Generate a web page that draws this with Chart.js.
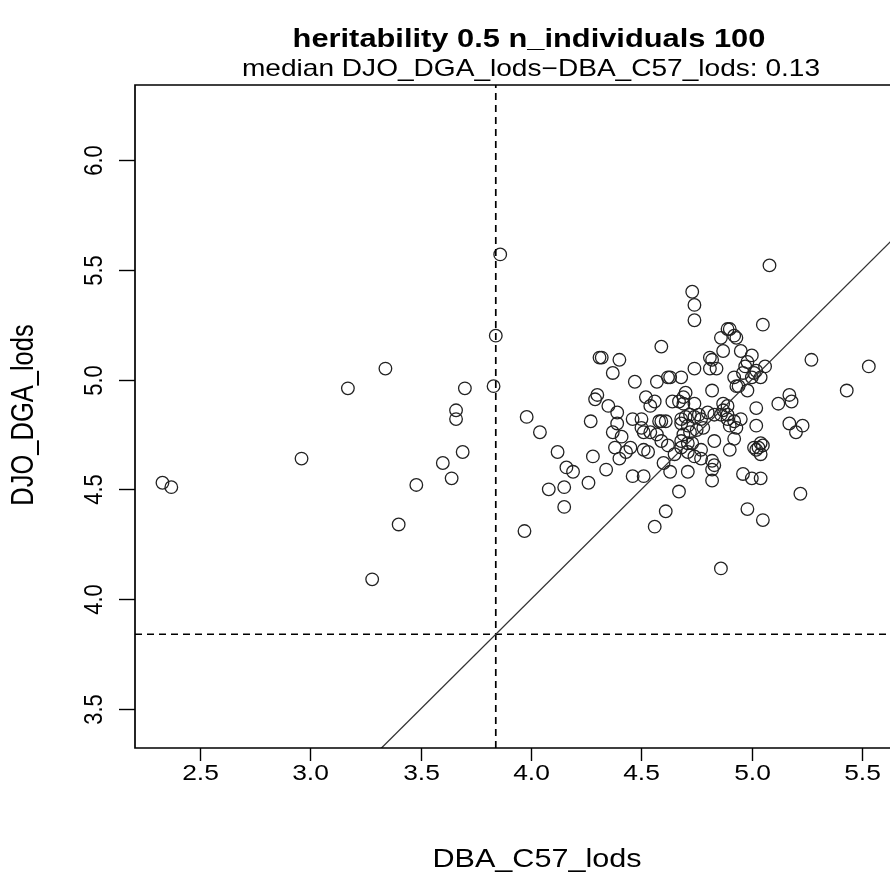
<!DOCTYPE html>
<html>
<head>
<meta charset="utf-8">
<script src="https://cdn.jsdelivr.net/npm/chart.js@4.4.0/dist/chart.umd.min.js"></script>
<style>
  html, body { margin: 0; padding: 0; background: #fff; overflow: hidden; }
  #wrap { width: 890px; height: 884px; position: relative; }
</style>
</head>
<body>
<div id="wrap"><canvas id="grafico"></canvas></div>
<script>
// Dados
const DBA_C57_lods = [
  2.33, 2.37, 3.34, 3.17, 2.96, 3.40, 3.28, 3.86, 3.84, 3.83,
  3.70, 3.66, 3.66, 3.69, 3.60, 3.64, 3.48, 3.98, 4.04, 3.97,
  4.12, 4.16, 4.19, 4.08, 4.15, 4.15, 4.26, 4.28, 4.34, 4.27,
  4.30, 4.29, 4.35, 4.39, 4.39, 4.37, 4.41, 4.38, 4.40, 4.31,
  4.32, 4.40, 4.37, 4.73, 4.74, 4.74, 4.59, 4.47, 4.57, 4.62,
  4.63, 4.68, 4.74, 4.81, 4.82, 4.81, 4.84, 4.86, 4.87, 4.89,
  4.82, 4.52, 4.56, 4.54, 4.46, 4.50, 4.50, 4.51, 4.54, 4.58,
  4.59, 4.61, 4.64, 4.67, 4.69, 4.70, 4.74, 4.87, 4.89, 4.68,
  4.68, 4.70, 4.71, 4.72, 4.74, 4.76, 4.77, 4.80, 4.83, 4.86,
  4.89, 4.69, 4.72, 4.75, 4.78, 4.57, 4.59, 4.68, 4.71, 4.73,
  4.83, 4.51, 4.62, 4.92, 4.94, 4.93, 4.98, 5.04, 4.96, 5.01,
  5.02, 5.12, 5.17, 5.18, 4.87, 4.89, 4.92, 4.95, 4.90, 4.93,
  5.02, 5.17, 5.20, 5.23, 4.92, 5.01, 5.04, 5.05, 4.43, 4.45,
  4.53, 4.60, 4.63, 4.46, 4.51, 4.71, 4.67, 4.61, 4.65, 4.68,
  4.71, 4.74, 4.77, 4.77, 4.82, 4.83, 4.82, 4.82, 4.90, 5.02,
  5.03, 5.04, 4.96, 5.00, 5.04, 5.22, 4.98, 5.05, 4.86, 4.56,
  5.08, 5.05, 4.90, 4.92, 4.93, 4.95, 5.00, 5.27, 5.53, 5.43,
  5.06, 5.02, 4.97, 4.98, 5.00, 4.69
];
const DJO_DGA_lods = [
  4.53, 4.51, 5.05, 4.96, 4.64, 4.34, 4.09, 5.57, 5.20, 4.97,
  4.96, 4.86, 4.82, 4.67, 4.62, 4.55, 4.52, 4.83, 4.76, 4.31,
  4.67, 4.60, 4.58, 4.50, 4.51, 4.42, 4.53, 4.65, 4.59, 4.81,
  4.93, 4.91, 4.88, 4.85, 4.80, 4.76, 4.74, 4.69, 4.64, 5.10,
  5.10, 5.09, 5.03, 5.40, 5.34, 5.27, 5.15, 4.99, 4.99, 5.01,
  5.01, 5.01, 5.05, 5.10, 5.09, 5.05, 5.05, 5.19, 5.13, 5.23,
  4.95, 4.92, 4.90, 4.88, 4.82, 4.82, 4.78, 4.76, 4.76, 4.81,
  4.81, 4.81, 4.90, 4.90, 4.92, 4.94, 4.89, 4.89, 4.88, 4.82,
  4.80, 4.83, 4.79, 4.84, 4.83, 4.84, 4.82, 4.85, 4.84, 4.84,
  4.84, 4.75, 4.76, 4.77, 4.78, 4.75, 4.72, 4.72, 4.71, 4.71,
  4.72, 4.68, 4.70, 5.01, 4.97, 4.97, 4.95, 5.01, 5.03, 5.03,
  4.87, 4.89, 4.93, 4.90, 4.86, 4.82, 4.81, 4.82, 4.79, 4.78,
  4.79, 4.80, 4.76, 4.79, 4.73, 4.69, 4.71, 4.70, 4.67, 4.69,
  4.67, 4.62, 4.58, 4.56, 4.56, 4.58, 4.49, 4.40, 4.66, 4.69,
  4.67, 4.65, 4.68, 4.64, 4.63, 4.61, 4.59, 4.54, 4.68, 4.68,
  4.69, 4.66, 4.57, 4.55, 4.55, 4.48, 4.41, 4.36, 4.14, 4.33,
  5.52, 5.25, 5.23, 5.20, 5.19, 5.13, 5.11, 5.09, 5.06, 4.95,
  5.06, 5.04, 5.06, 5.08, 5.01, 4.89
];

const xTicks = [2.5, 3.0, 3.5, 4.0, 4.5, 5.0, 5.5];
const xTickLabels = ['2.5', '3.0', '3.5', '4.0', '4.5', '5.0', '5.5'];
const yTicks = [3.5, 4.0, 4.5, 5.0, 5.5, 6.0];
const yTickLabels = ['3.5', '4.0', '4.5', '5.0', '5.5', '6.0'];

const limiar = 3.84;               // linhas tracejadas
const faixaIdentidade = [2.0, 6.0]; // reta y = x

const titulo = 'heritability 0.5 n_individuals 100';
const subtitulo = 'median DJO_DGA_lods\u2212DBA_C57_lods: 0.13';
const tituloX = 'DBA_C57_lods';
const tituloY = 'DJO_DGA_lods';

// Limites dos eixos (região do gráfico recortada à direita)
const xMin = 2.2055, xMax = 5.626;
const yMin = 3.322, yMax = 6.3415;

const FONTE = '"Liberation Sans", Arial, sans-serif';
const SX = 1.2; // a imagem original está esticada na horizontal

function texto(ctx, str, x, y, font, rot) {
  ctx.save();
  ctx.translate(x, y);
  ctx.scale(SX, 1);
  if (rot) ctx.rotate(rot);
  ctx.font = font;
  ctx.fillStyle = '#000';
  ctx.textAlign = 'center';
  ctx.textBaseline = 'middle';
  ctx.fillText(str, 0, 0);
  ctx.restore();
}

// Eixos no estilo do R base
const eixosR = {
  id: 'eixosR',
  afterDraw(chart) {
    const ctx = chart.ctx;
    const a = chart.chartArea;
    const sx = chart.scales.x, sy = chart.scales.y;
    ctx.save();
    ctx.strokeStyle = '#000';
    ctx.lineWidth = 1.7;
    ctx.beginPath();
    ctx.moveTo(chart.width + 2, a.top);
    ctx.lineTo(a.left, a.top);
    ctx.lineTo(a.left, a.bottom);
    ctx.lineTo(chart.width + 2, a.bottom);
    ctx.stroke();

    ctx.lineWidth = 1.4;
    xTicks.forEach((v, i) => {
      const px = Math.round(sx.getPixelForValue(v)) + 0.5;
      ctx.beginPath();
      ctx.moveTo(px, a.bottom);
      ctx.lineTo(px, a.bottom + 13);
      ctx.stroke();
      texto(ctx, xTickLabels[i], px, a.bottom + 26, '22px ' + FONTE);
    });
    yTicks.forEach((v, i) => {
      const py = Math.round(sy.getPixelForValue(v)) + 0.5;
      ctx.beginPath();
      ctx.moveTo(a.left, py);
      ctx.lineTo(a.left - 16, py);
      ctx.stroke();
      texto(ctx, yTickLabels[i], a.left - 40, py, '22px ' + FONTE, -Math.PI / 2);
    });
    ctx.restore();

    texto(ctx, titulo, 529, 40, 'bold 25.7px ' + FONTE);
    texto(ctx, subtitulo, 531, 70, '23.4px ' + FONTE);
    texto(ctx, tituloX, 537, 860, '25.5px ' + FONTE);
    texto(ctx, tituloY, 25, 415, '25.5px ' + FONTE, -Math.PI / 2);
  }
};

const pontos = DBA_C57_lods.map((x, i) => ({ x: x, y: DJO_DGA_lods[i] }));

new Chart(document.getElementById('grafico').getContext('2d'), {
  type: 'scatter',
  data: {
    datasets: [
      {
        type: 'line',
        data: faixaIdentidade.map(v => ({ x: v, y: v })),
        borderColor: '#333',
        borderWidth: 1.3,
        pointRadius: 0,
        fill: false
      },
      {
        type: 'line',
        data: [{ x: limiar, y: yMin }, { x: limiar, y: yMax }],
        borderColor: '#000',
        borderWidth: 1.7,
        borderDash: [7, 5],
        pointRadius: 0,
        fill: false
      },
      {
        type: 'line',
        data: [{ x: xMin, y: limiar }, { x: xMax, y: limiar }],
        borderColor: '#000',
        borderWidth: 1.7,
        borderDash: [7, 5],
        pointRadius: 0,
        fill: false
      },
      {
        data: pontos,
        pointStyle: 'circle',
        pointRadius: 6.3,
        borderColor: '#222',
        borderWidth: 1.3,
        backgroundColor: 'rgba(0,0,0,0)'
      }
    ]
  },
  options: {
    responsive: true,
    maintainAspectRatio: false,
    animation: false,
    layout: {
      autoPadding: false,
      padding: { left: 135, top: 85, right: 0, bottom: 136 }
    },
    plugins: {
      legend: { display: false },
      tooltip: { enabled: false }
    },
    scales: {
      x: { type: 'linear', min: xMin, max: xMax, display: false },
      y: { type: 'linear', min: yMin, max: yMax, display: false }
    }
  },
  plugins: [eixosR]
});
</script>
</body>
</html>
